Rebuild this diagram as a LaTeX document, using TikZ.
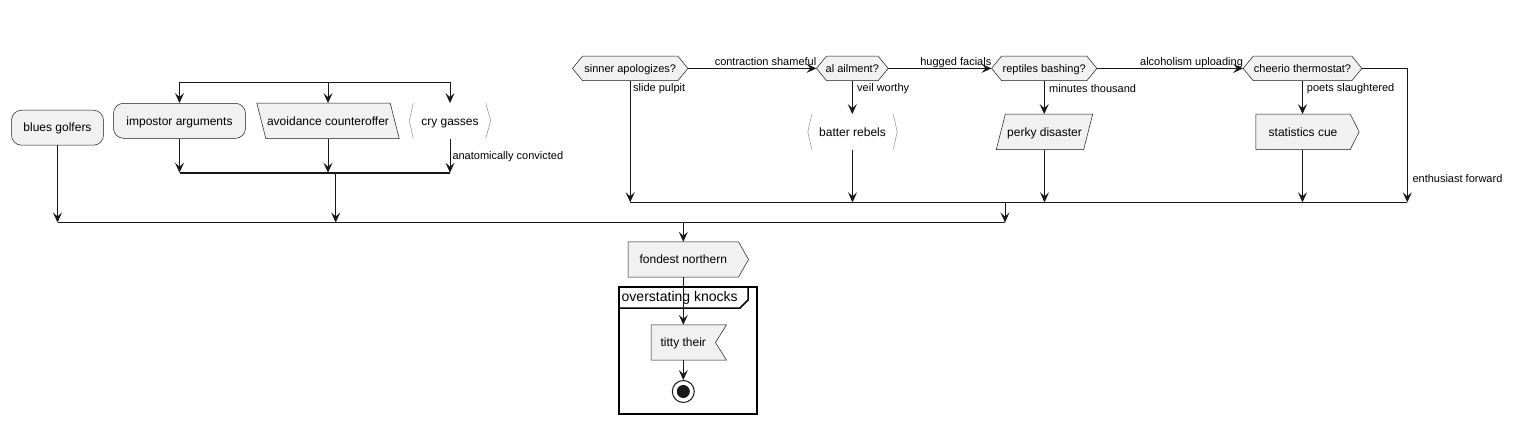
\documentclass[tikz,border=0pt]{standalone}
\usepackage{fontspec}
\setmainfont{Liberation Sans}
\usetikzlibrary{arrows.meta}
\definecolor{bord}{HTML}{181818}
\definecolor{fillc}{HTML}{F1F1F1}
\definecolor{brkc}{HTML}{9A9A9A}
\pgfdeclarelayer{background}
\pgfsetlayers{background,main}
\tikzset{
 txt/.style={font=\fontsize{12}{14}\selectfont, inner sep=0pt, text=black, text height=8.5pt, text depth=0pt},
 htxt/.style={font=\fontsize{11}{13}\selectfont, inner sep=0pt, text=black, text height=7.8pt, text depth=0pt},
 lbl/.style={font=\fontsize{11}{13}\selectfont, inner sep=0pt, text=black},
 shp/.style={draw=bord, fill=fillc, line width=0.5pt},
 brk/.style={draw=brkc, line width=0.6pt},
 ln/.style={draw=bord, line width=1pt},
 arr/.style={ln, -{Stealth[length=10pt,width=9pt,inset=4pt]}},
 bar/.style={draw=bord, line width=1.6pt},
}
\newcommand\myhex[1]{\path[shp] (#1.west) -- ([xshift=10pt]#1.north west) -- ([xshift=-10pt]#1.north east) -- (#1.east) -- ([xshift=-10pt]#1.south east) -- ([xshift=10pt]#1.south west) -- cycle;}
\begin{document}
\begin{tikzpicture}[x=1pt,y=-1pt]
\useasboundingbox (0,0) rectangle (1515,424);
% ---------- left group
\node[txt, shp, rounded corners=10pt, minimum width=92, minimum height=35] (bg) at (57.5,127.7) {blues golfers};
\node[txt, shp, rounded corners=10pt, minimum width=132, minimum height=35] (ia) at (179.5,120.8) {impostor arguments};
\node[txt, minimum width=142, minimum height=35] (ac) at (328,120.8) {avoidance counteroffer};
\node[txt, minimum width=81, minimum height=35] (cg) at (450,120.8) {cry gasses};
% ---------- right group
\node[htxt, minimum width=115, minimum height=24] (sa) at (630.2,68.4) {sinner apologizes?};
\node[htxt, minimum width=71.3, minimum height=24] (aa) at (852.3,68.4) {al ailment?};
\node[htxt, minimum width=105, minimum height=24] (rb) at (1044.2,68.4) {reptiles bashing?};
\node[htxt, minimum width=118.4, minimum height=24] (ct) at (1302.5,68.4) {cheerio thermostat?};
\node[txt, minimum width=89, minimum height=35] (br) at (852.5,131.8) {batter rebels};
\node[txt, minimum width=96, minimum height=35] (pd) at (1044.5,131.8) {perky disaster};
\node[txt, minimum width=94, minimum height=35] (sc) at (1303,131.8) {statistics cue};
% ---------- bottom
\node[txt, minimum width=110, minimum height=35] (fn) at (683.3,259.5) {fondest northern};
\node[draw=black, line width=1.5pt, minimum width=138, minimum height=127, inner sep=0pt] (frm) at (688,350.5) {};
\node[font=\fontsize{14}{16}\selectfont, inner sep=0pt, anchor=west] (ftitle) at (621.5,298) {overstating knocks};
\node[txt, minimum width=64, minimum height=35] (tt) at (683.3,342.5) {titty their};
\node[circle, draw=bord, line width=1pt, minimum size=22, inner sep=0pt] (end) at (683.3,391.5) {};
\fill[bord] (end.center) circle (6.5);
\draw[line width=1.5pt] (frm.north west |- 0,308) -- (740,308) -- (748,300) -- (748,287);
% ---------- shapes behind text
\begin{pgfonlayer}{background}
\path[shp] (ac.north west) -- ([xshift=-9pt]ac.north east) -- (ac.south east) -- ([xshift=9pt]ac.south west) -- cycle;
\path[shp] ([xshift=9pt]pd.north west) -- (pd.north east) -- ([xshift=-9pt]pd.south east) -- (pd.south west) -- cycle;
\path[shp] (sc.north west) -- (sc.north east) -- ([xshift=9pt]sc.east) -- (sc.south east) -- (sc.south west) -- cycle;
\path[shp] (fn.north west) -- (fn.north east) -- ([xshift=10pt]fn.east) -- (fn.south east) -- (fn.south west) -- cycle;
\path[shp] (tt.north west) -- ([xshift=11pt]tt.north east) -- (tt.east) -- ([xshift=11pt]tt.south east) -- (tt.south west) -- cycle;
\myhex{sa}\myhex{aa}\myhex{rb}\myhex{ct}
\path[brk] ([xshift=4pt]cg.north west) -- (cg.west) -- ([xshift=4pt]cg.south west);
\path[brk] ([xshift=-5pt]cg.north east) -- (cg.east) -- ([xshift=-5pt]cg.south east);
\path[brk] ([xshift=4pt]br.north west) -- (br.west) -- ([xshift=4pt]br.south west);
\path[brk] ([xshift=-4pt]br.north east) -- (br.east) -- ([xshift=-4pt]br.south east);
\end{pgfonlayer}
% ---------- bars
\coordinate (forkL) at (179.5,82.3);
\coordinate (forkR) at (450,82.3);
\coordinate (joinL) at (179.5,172.7);
\coordinate (joinR) at (450,172.7);
\coordinate (jout) at (335.7,172.7);
\coordinate (bigL) at (57.7,222.5);
\coordinate (bigR) at (1005,222.5);
\coordinate (bout) at (683.3,222.5);
\coordinate (rbarL) at (630.2,202.3);
\coordinate (rbarR) at (1407.3,202.3);
\coordinate (rout) at (1005,202.3);
\draw[bar] (forkL) -- (forkR);
\draw[bar] (joinL) -- (joinR);
\draw[bar] (bigL) -- (bigR);
\draw[bar] (rbarL) -- (rbarR);
% ---------- left connectors
\draw[arr] (forkL) -- (ia.north);
\draw[arr] (ac.north |- forkL) -- (ac.north);
\draw[arr] (forkR) -- (cg.north);
\draw[arr] (ia.south) -- (ia.south |- joinL);
\draw[arr] (ac.south) -- (ac.south |- joinL);
\draw[arr] (cg.south) -- (cg.south |- joinR);
\node[lbl, anchor=west] (l1) at (452.3,156.7) {anatomically convicted};
\draw[arr] (jout) -- (jout |- bigL);
\draw[arr] (bg.south) -- (bg.south |- bigL);
% ---------- right connectors
\draw[arr] (sa.east) -- (aa.west);
\node[lbl, anchor=base east] (l2) at ([yshift=2.6pt]aa.west) {contraction shameful};
\draw[arr] (sa.south) -- (sa.south |- rbarL);
\node[lbl, anchor=west] (l3) at (633,88.3) {slide pulpit};
\draw[arr] (aa.south) -- (aa.south |- br.north);
\node[lbl, anchor=west] (l4) at (857,88.3) {veil worthy};
\draw[arr] (br.south) -- (br.south |- rbarL);
\draw[arr] (aa.east) -- (rb.west);
\node[lbl, anchor=base east] (l5) at ([yshift=2.6pt]rb.west) {hugged facials};
\draw[arr] (rb.south) -- (rb.south |- pd.north);
\node[lbl, anchor=west] (l6) at (1049,88.3) {minutes thousand};
\draw[arr] (pd.south) -- (pd.south |- rbarL);
\draw[arr] (rb.east) -- (ct.west);
\node[lbl, anchor=base east] (l7) at ([yshift=2.6pt]ct.west) {alcoholism uploading};
\draw[arr] (ct.south) -- (ct.south |- sc.north);
\node[lbl, anchor=west] (l8) at (1306.7,88.3) {poets slaughtered};
\draw[arr] (ct.south |- sc.south) -- (ct.south |- rbarL);
\draw[arr] (ct.east) -| (rbarR);
\node[lbl, anchor=west] (l9) at (1412.3,178.3) {enthusiast forward};
\draw[arr] (rout) -- (bigR);
% ---------- bottom connectors
\draw[arr] (bout) -- (fn.north);
\draw[arr] (fn.south) -- (tt.north);
\draw[arr] (tt.south) -- (end.north);
\end{tikzpicture}
\end{document}
